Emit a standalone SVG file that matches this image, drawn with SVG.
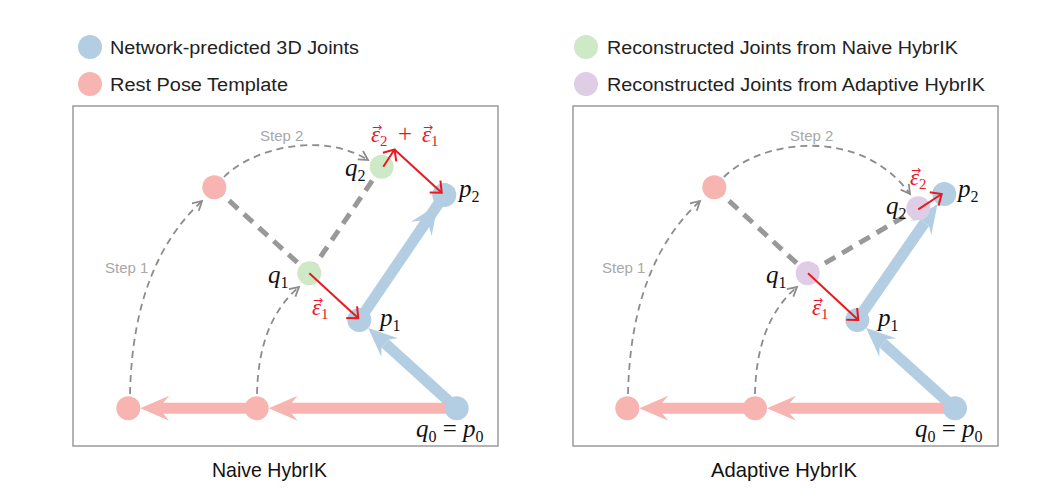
<svg xmlns="http://www.w3.org/2000/svg" width="1064" height="502" viewBox="0 0 1064 502">
<style>
.bg{fill:#fff}
.box{fill:none;stroke:#9a9a9a;stroke-width:1.5}
.blue{fill:#b3cde3}
.pink{fill:#f8b4b0}
.green{fill:#cde9c6}
.purple{fill:#dfcce5}
.sb{stroke:#b3cde3;stroke-width:11;fill:none}
.sp{stroke:#f8b4b0;stroke-width:11;fill:none}
.hb{fill:#b3cde3}
.hp{fill:#f8b4b0}
.bone{stroke:#999;stroke-width:5;stroke-dasharray:12 8;fill:none}
.step{stroke:#8c8c8c;stroke-width:1.8;stroke-dasharray:7 5;fill:none;marker-end:url(#chev)}
.red{stroke:#e8191f;stroke-width:2;fill:none;marker-end:url(#rhead)}
.leg{font-family:"Liberation Sans",Arial,sans-serif;font-size:18px;fill:#222}
.title{font-family:"Liberation Sans",Arial,sans-serif;font-size:21px;fill:#111}
.stepT{font-family:"Liberation Sans",Arial,sans-serif;font-size:15px;fill:#a8a8a8}
.m{font-family:"Liberation Serif","Times New Roman",serif;font-style:italic;font-size:25px;fill:#111}
.sub{font-style:normal;font-size:16px}
.eps{font-family:"Liberation Serif","DejaVu Serif",serif;font-style:italic;font-size:23px;fill:#e8191f}
.es{font-style:normal;font-size:15px}
.vec{font-family:"DejaVu Sans",sans-serif;font-style:normal;font-size:12px;text-anchor:middle}
</style>
<defs>
<marker id="chev" markerUnits="userSpaceOnUse" orient="auto" markerWidth="20" markerHeight="20" refX="0" refY="0" viewBox="-12 -10 14 20" overflow="visible">
<path d="M-9,-5 L0,0 L-9,5" fill="none" stroke="#8c8c8c" stroke-width="1.8"/>
</marker>
<marker id="rhead" markerUnits="userSpaceOnUse" orient="auto" markerWidth="24" markerHeight="24" refX="0" refY="0" viewBox="-12 -12 14 24" overflow="visible">
<path d="M-9,-8 L0,0 L-9,8" fill="none" stroke="#e8191f" stroke-width="2"/>
</marker>
<path id="headB" class="hb" d="M0,0 L-29,-12.5 L-23,-5.5 L-23,5.5 L-29,12.5 Z"/>
<path id="headP" class="hp" d="M0,0 L-29,-12.5 L-23,-5.5 L-23,5.5 L-29,12.5 Z"/>
</defs>
<rect class="bg" x="0" y="0" width="1064" height="502"/>

<g id="legend">
<circle class="blue" cx="90" cy="47" r="12"/>
<text class="leg" x="110" y="54" textLength="249" lengthAdjust="spacingAndGlyphs">Network-predicted 3D Joints</text>
<circle class="pink" cx="90" cy="84" r="12"/>
<text class="leg" x="110" y="91" textLength="178" lengthAdjust="spacingAndGlyphs">Rest Pose Template</text>
<circle class="green" cx="586" cy="47" r="12"/>
<text class="leg" x="607" y="54" textLength="351" lengthAdjust="spacingAndGlyphs">Reconstructed Joints from Naive HybrIK</text>
<circle class="purple" cx="586" cy="84" r="12"/>
<text class="leg" x="607" y="91" textLength="378" lengthAdjust="spacingAndGlyphs">Reconstructed Joints from Adaptive HybrIK</text>
</g>

<g id="panel-left">
<rect class="box" x="73" y="106" width="425" height="340"/>
<text class="title" x="269.5" y="477" text-anchor="middle" textLength="115" lengthAdjust="spacingAndGlyphs">Naive HybrIK</text>
</g>
<g id="panel-right">
<rect class="box" x="573" y="106" width="425" height="340"/>
<text class="title" x="784" y="477" text-anchor="middle" textLength="146" lengthAdjust="spacingAndGlyphs">Adaptive HybrIK</text>
</g>

<g id="connectors">
<line class="bone" x1="214.3" y1="187.3" x2="309.3" y2="273.3"/>
<line class="bone" x1="309.3" y1="273.3" x2="381.7" y2="166.7"/>
<path class="step" d="M130,394 C132,300 160,240 202,201"/>
<path class="step" d="M257,394 C258,345 272,310 299,287"/>
<path class="step" d="M224,177 C250,150 320,130 368,160"/>
<line class="sb" x1="456.7" y1="408.3" x2="385.2" y2="343.5"/>
<use href="#headB" transform="translate(368.2,328.1) rotate(222.2)"/>
<line class="sb" x1="359.3" y1="320" x2="450.5" y2="186"/>
<use href="#headB" transform="translate(437.6,204.9) rotate(-55.8)"/>
<line class="sp" x1="456.7" y1="408.3" x2="290.7" y2="408.3"/>
<use href="#headP" transform="translate(268.7,408.3) rotate(180)"/>
<line class="sp" x1="256.7" y1="408.3" x2="162.3" y2="408.3"/>
<use href="#headP" transform="translate(140.3,408.3) rotate(180)"/>
<line class="bone" x1="714.3" y1="187.3" x2="807.7" y2="273.3"/>
<line class="bone" x1="807.7" y1="273.3" x2="918.3" y2="208.3"/>
<path class="step" d="M628,394 C630,300 658,240 700,201"/>
<path class="step" d="M755,394 C756,345 770,310 797,287"/>
<path class="step" d="M724,177 C760,140 860,125 910,194"/>
<line class="sb" x1="955" y1="408.3" x2="883.2" y2="343.5"/>
<use href="#headB" transform="translate(866.2,328) rotate(222.1)"/>
<line class="sb" x1="857.3" y1="320" x2="924.5" y2="222.8"/>
<use href="#headB" transform="translate(937.5,203.9) rotate(-55.4)"/>
<line class="sp" x1="955" y1="408.3" x2="789" y2="408.3"/>
<use href="#headP" transform="translate(767,408.3) rotate(180)"/>
<line class="sp" x1="755" y1="408.3" x2="661.3" y2="408.3"/>
<use href="#headP" transform="translate(639.3,408.3) rotate(180)"/>
</g>

<g id="nodes-left">
<circle id="L-rest-top" class="pink" cx="214.3" cy="187.3" r="12"/>
<circle id="L-rest-0" class="pink" cx="128.3" cy="408.3" r="12"/>
<circle id="L-rest-1" class="pink" cx="256.7" cy="408.3" r="12"/>
<circle id="L-p0" class="blue" cx="456.7" cy="408.3" r="12"/>
<circle id="L-p1" class="blue" cx="359.3" cy="320" r="12"/>
<circle id="L-p2" class="blue" cx="444.3" cy="195" r="12"/>
<circle id="L-q1" class="green" cx="309.3" cy="273.3" r="12"/>
<circle id="L-q2" class="green" cx="381.7" cy="166.7" r="12"/>
</g>
<g id="nodes-right">
<circle id="R-rest-top" class="pink" cx="714.3" cy="187.3" r="12"/>
<circle id="R-rest-0" class="pink" cx="627.3" cy="408.3" r="12"/>
<circle id="R-rest-1" class="pink" cx="755" cy="408.3" r="12"/>
<circle id="R-p0" class="blue" cx="955" cy="408.3" r="12"/>
<circle id="R-p1" class="blue" cx="857.3" cy="320" r="12"/>
<circle id="R-p2" class="blue" cx="944.3" cy="194" r="12"/>
<circle id="R-q1" class="purple" cx="807.7" cy="273.3" r="12"/>
<circle id="R-q2" class="purple" cx="918.3" cy="208.3" r="12"/>
</g>

<g id="error-arrows">
<line class="red" x1="309.3" y1="273.3" x2="358.3" y2="318.3"/>
<line class="red" x1="383.3" y1="166.7" x2="394.5" y2="149.5"/>
<line class="red" x1="394.5" y1="149.5" x2="441.7" y2="192.7"/>
<line class="red" x1="808" y1="273.3" x2="858.3" y2="320"/>
<line class="red" x1="918.3" y1="209.3" x2="941.7" y2="194"/>
</g>

<g id="labels">
<text class="stepT" x="260" y="140.7">Step 2</text>
<text class="stepT" x="105" y="272.7">Step 1</text>
<text class="stepT" x="790" y="140.7">Step 2</text>
<text class="stepT" x="602" y="272.5">Step 1</text>

<text class="m" x="268" y="283">q<tspan class="sub" dy="5">1</tspan></text>
<text class="m" x="345" y="176">q<tspan class="sub" dy="5">2</tspan></text>
<text class="m" x="380" y="326">p<tspan class="sub" dy="5">1</tspan></text>
<text class="m" x="459" y="197">p<tspan class="sub" dy="5">2</tspan></text>
<text class="m" x="416" y="437">q<tspan class="sub" dy="5">0</tspan><tspan dy="-5" font-style="normal"> = </tspan>p<tspan class="sub" dy="5">0</tspan></text>

<text class="m" x="766" y="283">q<tspan class="sub" dy="5">1</tspan></text>
<text class="m" x="886" y="214">q<tspan class="sub" dy="5">2</tspan></text>
<text class="m" x="878" y="326">p<tspan class="sub" dy="5">1</tspan></text>
<text class="m" x="958" y="197">p<tspan class="sub" dy="5">2</tspan></text>
<text class="m" x="915" y="437">q<tspan class="sub" dy="5">0</tspan><tspan dy="-5" font-style="normal"> = </tspan>p<tspan class="sub" dy="5">0</tspan></text>

<text class="eps" x="312" y="315">ε<tspan class="es" dy="4">1</tspan><tspan class="vec" x="318" y="304">→</tspan></text>
<text class="eps" x="371" y="142">ε<tspan class="es" dy="4">2</tspan><tspan x="398" y="142" font-style="normal" font-size="25">+</tspan><tspan x="422" y="142">ε</tspan><tspan class="es" dy="4">1</tspan><tspan class="vec" x="377" y="131">→</tspan><tspan class="vec" x="428" y="131">→</tspan></text>
<text class="eps" x="812" y="315">ε<tspan class="es" dy="4">1</tspan><tspan class="vec" x="818" y="304">→</tspan></text>
<text class="eps" x="910" y="185">ε<tspan class="es" dy="4">2</tspan><tspan class="vec" x="916" y="174">→</tspan></text>
</g>
</svg>
